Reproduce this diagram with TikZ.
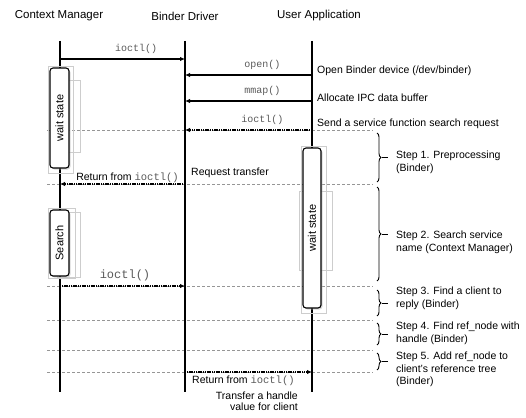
\documentclass[tikz,border=0pt]{standalone}
\usepackage{fontspec}
\setmainfont{Liberation Sans}
\setmonofont{Liberation Mono}
\usetikzlibrary{arrows.meta, decorations.pathreplacing, shadows, positioning, calc}
\definecolor{sepgray}{RGB}{150,150,150}
\definecolor{codegray}{RGB}{90,90,90}
\definecolor{ghostgray}{RGB}{205,205,205}

\tikzset{
  lifeline/.style={line width=1.3pt},
  msg/.style={line width=1.3pt, -{Latex[length=5pt,width=4.5pt]}},
  retmsg/.style={msg, dash pattern=on 1.2pt off 0.6pt},
  sepline/.style={sepgray, line width=0.9pt, dash pattern=on 3pt off 2pt},
  actbox/.style={draw, line width=1.1pt, rounded corners=3pt, fill=white, inner sep=0pt,
    font=\fontsize{11}{13}\selectfont,
    drop shadow={shadow xshift=1.5pt, shadow yshift=-1.5pt, fill=gray!60}},
  ghost/.style={draw=ghostgray, line width=0.6pt},
  stepbrace/.style={decorate, decoration={brace, amplitude=4pt}, line width=0.9pt},
  steplbl/.style={anchor=north west, align=left, inner sep=0pt, font=\fontsize{10.5}{12.5}\selectfont},
  note/.style={inner sep=0pt, font=\fontsize{10.5}{12.5}\selectfont},
  code/.style={font=\fontsize{10}{12}\ttfamily, text=codegray},
  head/.style={font=\fontsize{11.5}{14}\selectfont},
}

\begin{document}
\begin{tikzpicture}[x=1pt, y=-1pt]
  \useasboundingbox (0,0) rectangle (526,417);

  % Headers
  \node[head] (cmhead) at (59,16) {Context Manager};
  \node[head] (bdhead) at (185,16) {Binder Driver};
  \node[head] (uahead) at (319,16) {User Application};

  % Lifeline ends
  \coordinate (cm) at (60,41);
  \coordinate (bd) at (185,41);
  \coordinate (ua) at (312,41);
  \coordinate (cmend) at (60,392);
  \coordinate (bdend) at (185,392);
  \coordinate (uaend) at (312,392);

  % Separators between steps
  \foreach \y in {130,184,286,320,350,372}
    \draw[sepline] (47,\y) -- (373,\y);

  \draw[lifeline] (cm) -- (cmend);
  \draw[lifeline] (bd) -- (bdend);
  \draw[lifeline] (ua) -- (uaend);

  % Ghost outlines
  \draw[ghost] (48,66) rectangle (73,173);
  \draw[ghost] (57,80) rectangle (80,152);
  \draw[ghost] (48,208) rectangle (75,278);
  \draw[ghost] (57,212) rectangle (80,277);
  \draw[ghost] (301,146) rectangle (326,313);
  \draw[ghost] (299,191) rectangle (332,270);

  % Activation boxes
  \node[actbox, minimum width=19pt, minimum height=100pt] (cmwait) at (59.5,118) {\rotatebox{90}{wait state}};
  \node[actbox, minimum width=19pt, minimum height=66pt] (cmsearch) at (59.5,243) {\rotatebox{90}{Search}};
  \node[actbox, minimum width=18pt, minimum height=160pt] (uawait) at (312,228) {\rotatebox{90}{wait state}};

  % Message rows
  \coordinate (m1) at (0,59);
  \coordinate (m2) at (0,75);
  \coordinate (m3) at (0,101);
  \coordinate (m4) at (0,130);
  \coordinate (m5) at (0,184);
  \coordinate (m6) at (0,286);
  \coordinate (m7) at (0,372);

  \draw[msg] (cm |- m1) -- (bd |- m1) node[pos=0.61, above=1pt, code] {ioctl()};
  \draw[msg] (ua |- m2) -- (bd |- m2) node[pos=0.39, above=1pt, code] {open()};
  \draw[msg] (ua |- m3) -- (bd |- m3) node[pos=0.39, above=1pt, code] {mmap()};
  \draw[retmsg] (ua |- m4) -- (bd |- m4) node[pos=0.39, above=1pt, code] {ioctl()};
  \draw[retmsg] (bd |- m5) -- (cm |- m5)
    node[pos=0.46, above=1pt, note] {Return from \texttt{\textcolor{codegray}{ioctl()}}};
  \draw[retmsg] (cm |- m6) -- (bd |- m6)
    node[pos=0.52, above=1pt, code, font=\fontsize{12}{14}\ttfamily] {ioctl()};
  \draw[retmsg] (bd |- m7) -- (ua |- m7)
    node[pos=0.46, below=3pt, note] {Return from \texttt{\textcolor{codegray}{ioctl()}}};

  % Side notes
  \node[note, anchor=west] (opennote) at (317,71) {Open Binder device (/dev/binder)};
  \node[note, anchor=west] (mmapnote) at (317,98) {Allocate IPC data buffer};
  \node[note, anchor=west] (sendnote) at (317,124) {Send a service function search request};
  \node[note, anchor=west] (reqnote) at (191,173) {Request transfer};
  \node[note, anchor=north east, align=right, font=\fontsize{10.5}{11}\selectfont] (handlenote) at (298,392)
    {Transfer a handle\\value for client};

  % Step braces
  \foreach \ya/\yb in {133/182, 187/281, 290/316, 323/345, 353/370} {
    \draw[stepbrace] (377,\ya) -- (377,\yb);
    \draw[line width=0.9pt] (382,{(\ya+\yb)/2}) -- (388,{(\ya+\yb)/2});
  }
  \node[steplbl] (step1) at (396,151) {Step 1. Preprocessing\\(Binder)};
  \node[steplbl] (step2) at (396,231) {Step 2. Search service\\name (Context Manager)};
  \node[steplbl] (step3) at (396,287) {Step 3. Find a client to\\reply (Binder)};
  \node[steplbl] (step4) at (396,322) {Step 4. Find ref\_node with\\handle (Binder)};
  \node[steplbl] (step5) at (396,352) {Step 5. Add ref\_node to\\client's reference tree\\(Binder)};
\end{tikzpicture}
\end{document}
